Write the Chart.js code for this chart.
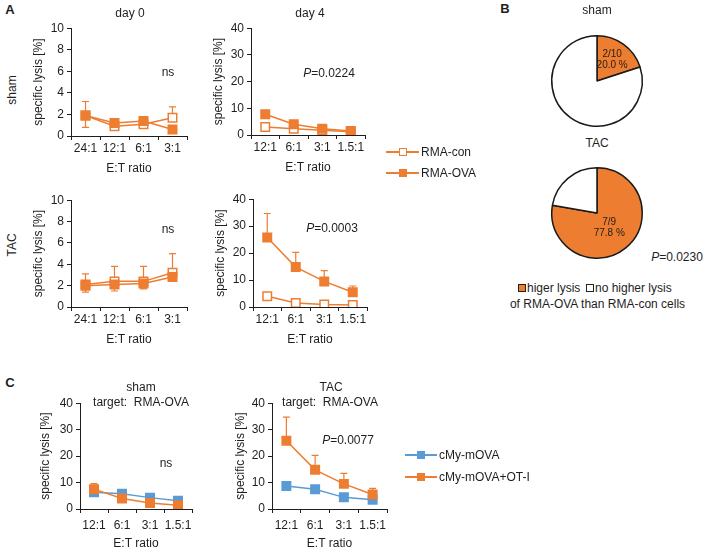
<!DOCTYPE html>
<html>
<head>
<meta charset="utf-8">
<script src="https://cdn.jsdelivr.net/npm/chart.js@4.4.1/dist/chart.umd.min.js"></script>
<style>
  body { margin: 0; background: #fff; width: 704px; height: 550px; position: relative; overflow: hidden;
         font-family: "Liberation Sans", Arial, sans-serif; color: #1e1e1e; }
  canvas { position: absolute; }
  .t { position: absolute; font-size: 12px; line-height: 1; white-space: nowrap; }
  .lg-line { position: absolute; height: 1.5px; }
  .lg-box { position: absolute; box-sizing: border-box; }
</style>
</head>
<body>
<canvas id="a1"></canvas>
<canvas id="a2"></canvas>
<canvas id="a3"></canvas>
<canvas id="a4"></canvas>
<canvas id="c1"></canvas>
<canvas id="c2"></canvas>
<canvas id="pieSham"></canvas>
<canvas id="pieTac"></canvas>
<script>
// E:T ratio categories
const etDay0 = ['24:1', '12:1', '6:1', '3:1'];
const etDay4 = ['12:1', '6:1', '3:1', '1.5:1'];

// A - sham, day 0
const shamD0Con = [1.9, 0.9, 1.1, 1.7];
const shamD0ConUp = [1.3, 0.2, 0.2, 1.0];
const shamD0Ova = [1.9, 1.2, 1.4, 0.6];
const shamD0OvaDown = [1.1, 0.2, 0.2, 0.1];
// A - sham, day 4
const shamD4Con = [3.0, 2.3, 1.8, 1.2];
const shamD4Ova = [7.8, 4.0, 2.3, 1.5];
const shamD4OvaUp = [1.2, 0.5, 0.5, 0.3];
// A - TAC, day 0
const tacD0Con = [2.1, 2.4, 2.4, 3.2];
const tacD0ConUp = [1.0, 1.4, 1.4, 1.8];
const tacD0Ova = [2.0, 2.1, 2.2, 2.8];
const tacD0OvaDown = [0.6, 0.6, 0.5, 0.2];
// A - TAC, day 4
const tacD4Con = [4.0, 1.5, 0.9, 0.7];
const tacD4Ova = [25.8, 14.8, 9.5, 5.5];
const tacD4OvaUp = [8.9, 5.5, 4.0, 2.3];

// B - pies (higher lysis, no higher lysis)
const pieLabels = ['higer lysis', 'no higher lysis'];
const shamPie = [2, 8];
const tacPie = [7, 2];

// C - target RMA-OVA
const cShamMova = [6.3, 5.8, 4.3, 3.1];
const cShamOt = [7.5, 4.0, 2.3, 1.4];
const cShamOtUp = [2.1, 0.5, 0.4, 0.3];
const cTacMova = [8.7, 7.5, 4.4, 3.5];
const cTacOt = [25.8, 14.8, 9.5, 5.5];
const cTacOtUp = [8.9, 5.5, 4.0, 2.3];

const orange = '#ED7D31';
const blue = '#5B9BD5';
const ink = '#1e1e1e';

Chart.defaults.font.family = '"Liberation Sans", Arial, sans-serif';
Chart.defaults.font.size = 12;
Chart.defaults.color = ink;

// vertical error bars drawn from the y scale
const errorBars = {
  id: 'errorBars',
  beforeDatasetsDraw(chart) {
    const y = chart.scales.y;
    if (!y) return;
    const ctx = chart.ctx;
    chart.data.datasets.forEach((ds, i) => {
      const meta = chart.getDatasetMeta(i);
      meta.data.forEach((pt, j) => {
        const v = ds.data[j];
        const ends = [];
        if (ds.errUp) ends.push(v + ds.errUp[j]);
        if (ds.errDown) ends.push(v - ds.errDown[j]);
        ends.forEach(e => {
          const y0 = y.getPixelForValue(v);
          const y1 = y.getPixelForValue(e);
          ctx.save();
          ctx.strokeStyle = ds.borderColor;
          ctx.lineWidth = 1.2;
          ctx.beginPath();
          ctx.moveTo(pt.x, y0);
          ctx.lineTo(pt.x, y1);
          ctx.moveTo(pt.x - 3.5, y1);
          ctx.lineTo(pt.x + 3.5, y1);
          ctx.stroke();
          ctx.restore();
        });
      });
    });
  }
};
Chart.register(errorBars);

function series(label, data, color, open, errUp, errDown) {
  return {
    label, data, errUp, errDown,
    borderColor: color,
    backgroundColor: color,
    borderWidth: 1.5,
    tension: 0,
    pointStyle: 'rect',
    pointRadius: 6,
    pointBorderWidth: 1.5,
    pointBorderColor: color,
    pointBackgroundColor: open ? '#fff' : color
  };
}

function lineChart(id, box, labels, datasets, yMax, yStep, wY, hX, xPad) {
  const cv = document.getElementById(id);
  const T = 10, R = 10;
  cv.width = wY + (box.r - box.l) + R;
  cv.height = T + (box.b - box.t) + hX;
  cv.style.left = (box.l - wY) + 'px';
  cv.style.top = (box.t - T) + 'px';
  return new Chart(cv, {
    type: 'line',
    data: { labels, datasets },
    options: {
      responsive: false,
      animation: false,
      devicePixelRatio: 1,
      events: [],
      layout: { padding: { top: T, right: R, left: 0, bottom: 0 } },
      plugins: { legend: { display: false }, tooltip: { enabled: false } },
      scales: {
        x: {
          offset: true,
          grid: { offset: true, drawOnChartArea: false, color: ink, tickLength: 4 },
          border: { color: ink, width: 1 },
          ticks: { padding: xPad, maxRotation: 0, autoSkip: false },
          title: { display: true, text: 'E:T ratio', padding: 0 },
          afterFit: s => { s.height = hX; }
        },
        y: {
          min: 0,
          max: yMax,
          grid: { drawOnChartArea: false, color: ink, tickLength: 4 },
          border: { color: ink, width: 1 },
          ticks: { stepSize: yStep, padding: 3 },
          title: { display: true, text: 'specific lysis [%]', padding: 0 },
          afterFit: s => { s.width = wY; }
        }
      }
    }
  });
}

lineChart('a1', { l: 71, t: 28, r: 187, b: 136 }, etDay0, [
  series('RMA-OVA', shamD0Ova, orange, false, null, shamD0OvaDown),
  series('RMA-con', shamD0Con, orange, true, shamD0ConUp, null)
], 10, 2, 40, 40, 1);

lineChart('a2', { l: 251, t: 28, r: 365, b: 135 }, etDay4, [
  series('RMA-OVA', shamD4Ova, orange, false, shamD4OvaUp, null),
  series('RMA-con', shamD4Con, orange, true, null, null)
], 40, 10, 40, 40, 1);

lineChart('a3', { l: 71, t: 200, r: 187, b: 307 }, etDay0, [
  series('RMA-OVA', tacD0Ova, orange, false, null, tacD0OvaDown),
  series('RMA-con', tacD0Con, orange, true, tacD0ConUp, null)
], 10, 2, 40, 40, 1);

lineChart('a4', { l: 253, t: 199, r: 367, b: 307 }, etDay4, [
  series('RMA-OVA', tacD4Ova, orange, false, tacD4OvaUp, null),
  series('RMA-con', tacD4Con, orange, true, null, null)
], 40, 10, 40, 40, 1);

lineChart('c1', { l: 80, t: 403, r: 192, b: 509 }, etDay4, [
  series('cMy-mOVA+OT-I', cShamOt, orange, false, cShamOtUp, null),
  series('cMy-mOVA', cShamMova, blue, false, null, null)
], 40, 10, 42, 42, 5);

lineChart('c2', { l: 272, t: 403, r: 387, b: 509 }, etDay4, [
  series('cMy-mOVA+OT-I', cTacOt, orange, false, cTacOtUp, null),
  series('cMy-mOVA', cTacMova, blue, false, null, null)
], 40, 10, 39, 42, 5);

// count / percent written inside the orange slice
const sliceText = {
  id: 'sliceText',
  afterDatasetsDraw(chart, args, opts) {
    const ctx = chart.ctx;
    const data = chart.data.datasets[0].data;
    const total = data.reduce((a, b) => a + b, 0);
    const arc = chart.getDatasetMeta(0).data[0];
    const mid = (arc.startAngle + arc.endAngle) / 2;
    const r = arc.outerRadius * opts.radius;
    const x = arc.x + Math.cos(mid) * r;
    const y = arc.y + Math.sin(mid) * r;
    ctx.save();
    ctx.fillStyle = '#2a2118';
    ctx.font = '10px "Liberation Sans", Arial, sans-serif';
    ctx.textAlign = 'center';
    ctx.textBaseline = 'middle';
    ctx.fillText(data[0] + '/' + total, x, y - 5.5);
    ctx.fillText((data[0] / total * 100).toFixed(1) + ' %', x, y + 5.5);
    ctx.restore();
  }
};

function pieChart(id, cx, cy, r, data, labelR) {
  const cv = document.getElementById(id);
  const pad = 4;
  cv.width = cv.height = 2 * r + 2 * pad;
  cv.style.left = (cx - r - pad) + 'px';
  cv.style.top = (cy - r - pad) + 'px';
  return new Chart(cv, {
    type: 'pie',
    data: {
      labels: pieLabels,
      datasets: [{ data, backgroundColor: [orange, '#fff'], borderColor: '#1a1a1a', borderWidth: 1.5 }]
    },
    options: {
      responsive: false,
      animation: false,
      devicePixelRatio: 1,
      events: [],
      layout: { padding: pad },
      plugins: { legend: { display: false }, tooltip: { enabled: false }, sliceText: { radius: labelR } }
    },
    plugins: [sliceText]
  });
}

pieChart('pieSham', 597, 80.5, 46, shamPie, 0.57);
pieChart('pieTac', 597, 213, 46, tacPie, 0.42);

// text around the panels
function txt(html, x, y, o = {}) {
  const d = document.createElement('div');
  d.className = 't';
  d.innerHTML = html;
  d.style.left = x + 'px';
  d.style.top = y + 'px';
  if (o.size) d.style.fontSize = o.size + 'px';
  if (o.bold) d.style.fontWeight = 'bold';
  const ax = o.left ? '0' : '-50%';
  d.style.transform = `translate(${ax},-50%)` + (o.rot ? ' rotate(-90deg)' : '');
  document.body.appendChild(d);
}
function lgLine(x1, x2, y, color) {
  const d = document.createElement('div');
  d.className = 'lg-line';
  d.style.left = x1 + 'px';
  d.style.width = (x2 - x1) + 'px';
  d.style.top = (y - 0.75) + 'px';
  d.style.background = color;
  document.body.appendChild(d);
}
function lgBox(cx, cy, s, fill, stroke, bw) {
  const d = document.createElement('div');
  d.className = 'lg-box';
  d.style.left = (cx - s / 2) + 'px';
  d.style.top = (cy - s / 2) + 'px';
  d.style.width = s + 'px';
  d.style.height = s + 'px';
  d.style.background = fill;
  d.style.border = bw + 'px solid ' + stroke;
  document.body.appendChild(d);
}

txt('A', 10, 9, { bold: true, size: 13 });
txt('B', 505, 8, { bold: true, size: 13 });
txt('C', 10, 382, { bold: true, size: 13 });

txt('day 0', 130, 13);
txt('day 4', 310, 13);
txt('sham', 12, 90, { rot: true });
txt('TAC', 12, 245, { rot: true });
txt('ns', 168, 72);
txt('ns', 168, 229);
txt('<i>P</i>=0.0224', 329, 73);
txt('<i>P</i>=0.0003', 332, 228);

lgLine(386, 419, 152, orange);
lgBox(403, 152, 8.5, '#fff', orange, 1.5);
txt('RMA-con', 421, 152, { left: true });
lgLine(386, 419, 173, orange);
lgBox(403, 173, 8.5, orange, orange, 1.5);
txt('RMA-OVA', 421, 173, { left: true });

txt('sham', 597, 10);
txt('TAC', 597, 143);
txt('<i>P</i>=0.0230', 677, 257);
lgBox(522, 287.5, 8, orange, '#222', 1.5);
txt('higer lysis', 527, 287.5, { left: true });
lgBox(590, 287.5, 8, '#fff', '#222', 1.5);
txt('no higher lysis', 595, 287.5, { left: true });
txt('of RMA-OVA than RMA-con cells', 597.5, 303.5);

txt('sham', 141, 387);
txt('target:&nbsp; RMA-OVA', 141, 402);
txt('TAC', 331, 387);
txt('target:&nbsp; RMA-OVA', 330, 402);
txt('ns', 166, 463);
txt('<i>P</i>=0.0077', 348, 440);

lgLine(405, 437, 455, blue);
lgBox(421, 455, 8.5, blue, blue, 1.5);
txt('cMy-mOVA', 439, 455, { left: true });
lgLine(405, 437, 477, orange);
lgBox(421, 477, 8.5, orange, orange, 1.5);
txt('cMy-mOVA+OT-I', 439, 477, { left: true });
</script>
</body>
</html>
